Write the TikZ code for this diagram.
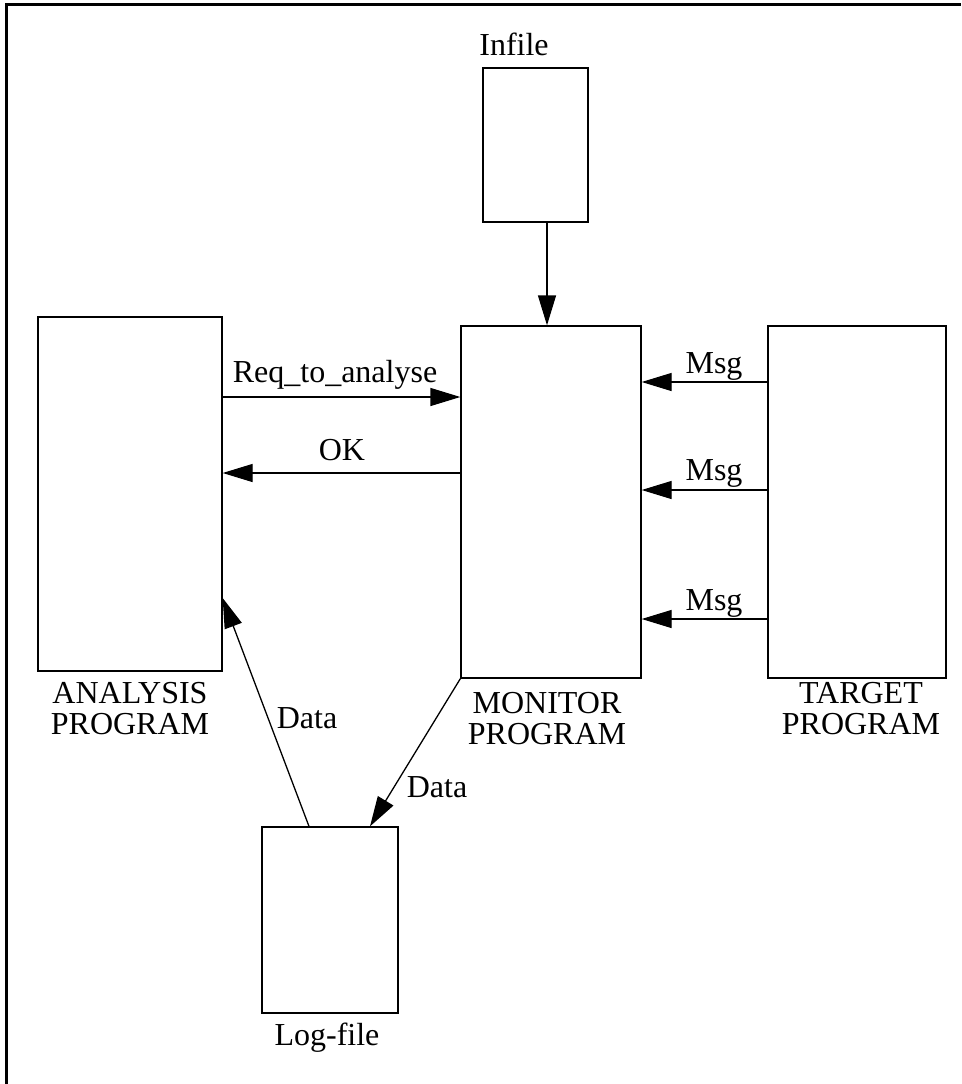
\documentclass[tikz,border=0pt]{standalone}
\usepackage{fontspec}
\setmainfont{Liberation Serif}
\usetikzlibrary{arrows.meta}
\begin{document}
\begin{tikzpicture}[x=1pt,y=-1pt,
  box/.style={draw,rectangle,inner sep=0pt,line width=1.3pt},
  lbl/.style={inner sep=0pt,font=\fontsize{32}{31}\selectfont},
  captext/.style={lbl,align=center,anchor=north},
  conn/.style={line width=1.3pt,-{Triangle[length=30pt,width=18pt]}}
]
\useasboundingbox (0,0) rectangle (961,1084);
\fill[white] (0,0) rectangle (961,1084);
% frame (top and left edges)
\draw[line width=2.5pt] (6.5,1084) -- (6.5,4.5) -- (961,4.5);

% boxes
\node[box,minimum width=105pt,minimum height=154pt] (infile) at (535.5,145) {};
\node[box,minimum width=184pt,minimum height=354pt] (analysis) at (130,494) {};
\node[box,minimum width=180pt,minimum height=352pt] (monitor) at (551,502) {};
\node[box,minimum width=178pt,minimum height=352pt] (target) at (857,502) {};
\node[box,minimum width=136pt,minimum height=186pt] (logfile) at (330,920) {};

% captions
\node[lbl,anchor=base] (infilecap) at (514,55) {Infile};
\node[captext] (analysiscap) at (130,682) {ANALYSIS\\PROGRAM};
\node[captext] (monitorcap) at (547,692) {MONITOR\\PROGRAM};
\node[captext] (targetcap) at (861,682) {TARGET\\PROGRAM};
\node[lbl,anchor=base] (logcap) at (327,1045) {Log-file};

% connectors
\draw[conn] (infile.south -| 547,0) -- (monitor.north -| 547,0);
\draw[conn] (analysis.east |- 0,397) -- (monitor.west |- 0,397);
\draw[conn] (monitor.west |- 0,473) -- (analysis.east |- 0,473);
\draw[conn] (target.west |- 0,382) -- (monitor.east |- 0,382);
\draw[conn] (target.west |- 0,490) -- (monitor.east |- 0,490);
\draw[conn] (target.west |- 0,619) -- (monitor.east |- 0,619);
\draw[conn] (monitor.south west) -- (logfile.north -| 370,0);
\draw[conn] (logfile.north -| 309,0) -- (analysis.east |- 0,598);

% connector labels
\node[lbl,anchor=base] (reqlbl) at (335,382) {Req\_to\_analyse};
\node[lbl,anchor=base] (oklbl) at (342,460) {OK};
\node[lbl,anchor=base] (msg1) at (714,373) {Msg};
\node[lbl,anchor=base] (msg2) at (714,480) {Msg};
\node[lbl,anchor=base] (msg3) at (714,610) {Msg};
\node[lbl,anchor=base] (data1) at (307,728) {Data};
\node[lbl,anchor=base] (data2) at (437,797) {Data};
\end{tikzpicture}
\end{document}
